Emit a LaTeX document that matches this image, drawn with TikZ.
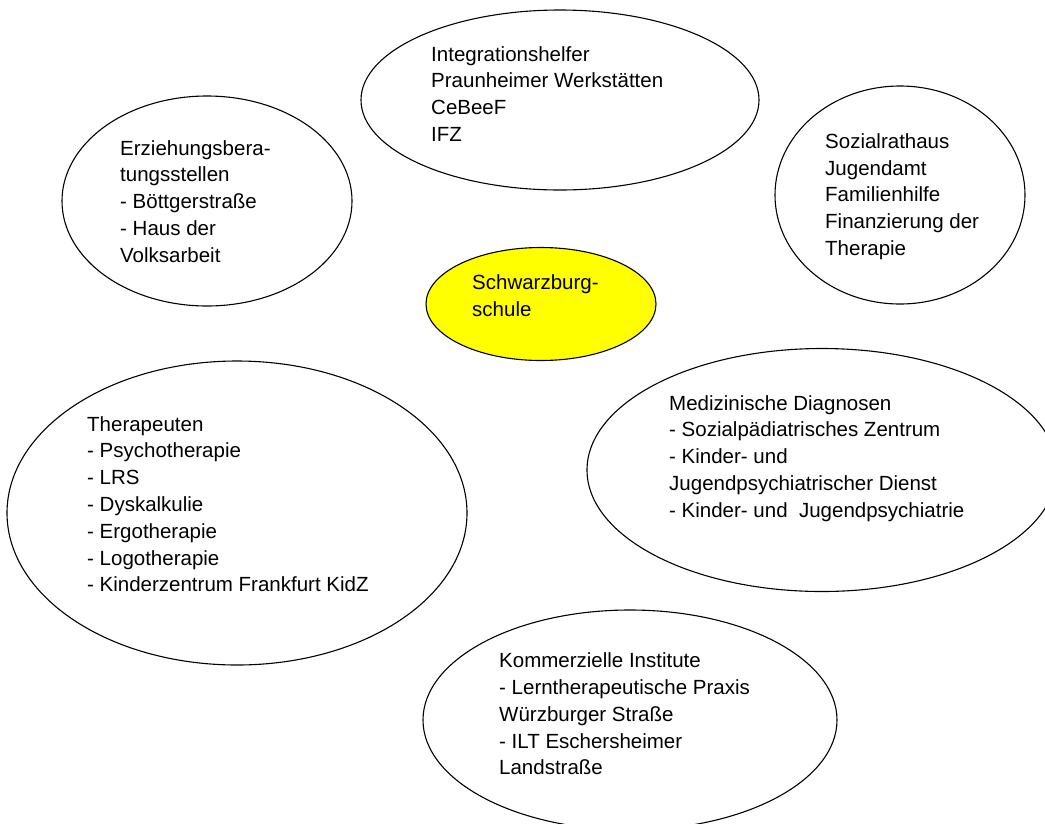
\documentclass[tikz,border=0pt]{standalone}
\usepackage{fontspec}
\setmainfont{Liberation Sans}
\usetikzlibrary{shapes.geometric}
\definecolor{schulgelb}{RGB}{255,255,0}
\begin{document}
\begin{tikzpicture}[x=1pt,y=-1pt,
  oval/.style={ellipse, draw=black, line width=1.1pt, inner sep=0pt},
  lbl/.style={anchor=north west, align=left, inner sep=0pt, text=black,
    font=\fontsize{20.5pt}{26.8pt}\selectfont}]
\useasboundingbox (0,0) rectangle (1045,823);
% ellipses
\node[oval, minimum width=398pt, minimum height=180pt] (integ) at (560,100) {};
\node[oval, minimum width=290pt, minimum height=210pt] (erz) at (207,201) {};
\node[oval, minimum width=250pt, minimum height=218pt] (sozial) at (900,195) {};
\node[oval, fill=schulgelb, minimum width=230pt, minimum height=113pt] (schule) at (541,304) {};
\node[oval, minimum width=460pt, minimum height=304pt] (ther) at (237,513) {};
\node[oval, minimum width=470pt, minimum height=243pt] (med) at (822,470) {};
\node[oval, minimum width=414pt, minimum height=220pt] (komm) at (630,720) {};
% texts
\node[lbl] (integT) at (431,46) {Integrationshelfer\\Praunheimer Werkstätten\\CeBeeF\\IFZ};
\node[lbl] (erzT) at (120,140) {Erziehungsbera-\\tungsstellen\\- Böttgerstraße\\- Haus der\\Volksarbeit};
\node[lbl] (sozialT) at (825,133.3) {Sozialrathaus\\Jugendamt\\Familienhilfe\\Finanzierung der\\Therapie};
\node[lbl] (schuleT) at (472,274.3) {Schwarzburg-\\schule};
\node[lbl] (therT) at (87,416) {Therapeuten\\- Psychotherapie\\- LRS\\- Dyskalkulie\\- Ergotherapie\\- Logotherapie\\- Kinderzentrum Frankfurt KidZ};
\node[lbl] (medT) at (669,395) {Medizinische Diagnosen\\- Sozialpädiatrisches Zentrum\\- Kinder- und\\Jugendpsychiatrischer Dienst\\- Kinder- und\ \ Jugendpsychiatrie};
\node[lbl] (kommT) at (499,652.7) {Kommerzielle Institute\\- Lerntherapeutische Praxis\\Würzburger Straße\\- ILT Eschersheimer\\Landstraße};
\end{tikzpicture}
\end{document}
